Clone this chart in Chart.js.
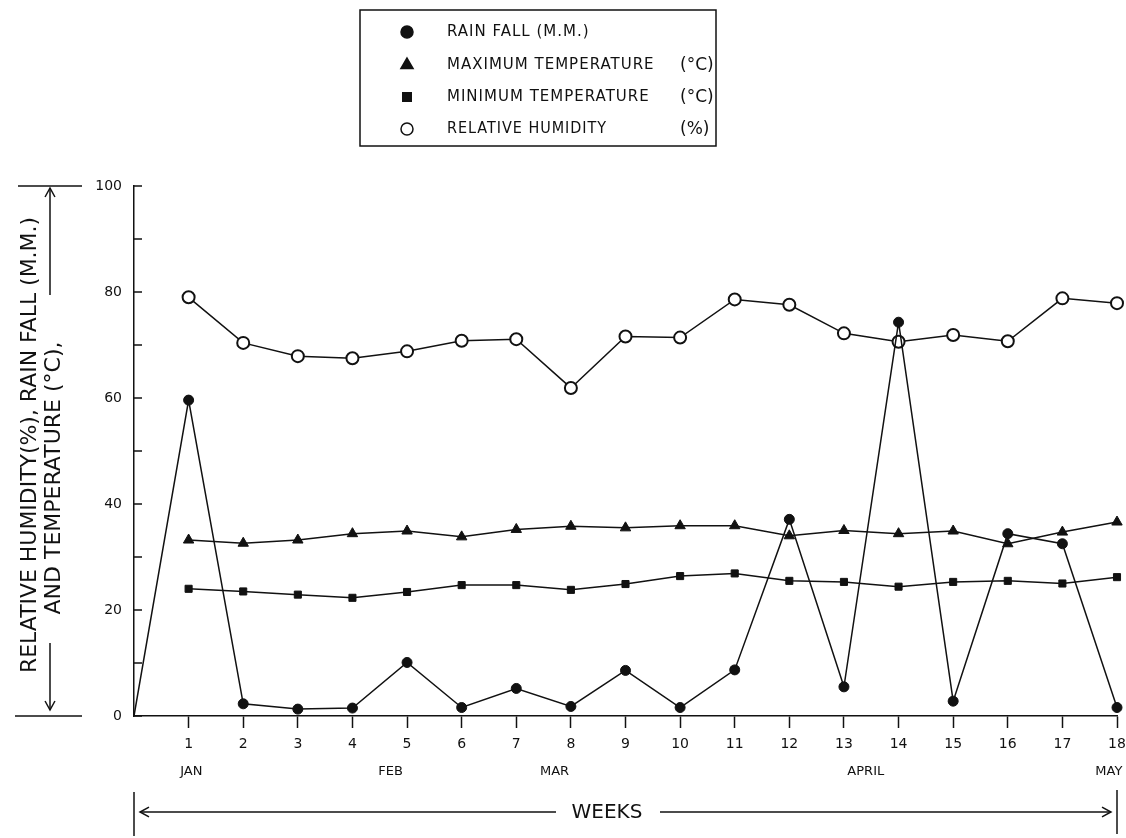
<!DOCTYPE html>
<html>
<head>
<meta charset="utf-8">
<title>Weekly weather</title>
<script src="https://cdn.jsdelivr.net/npm/chart.js@4.4.1/dist/chart.umd.min.js"></script>
<style>
  html, body { margin: 0; padding: 0; background: #fff; }
  #wrap { width: 1126px; height: 838px; }
</style>
</head>
<body>
<div id="wrap"><canvas id="weatherChart" width="1126" height="838"></canvas></div>
<script>
// Week numbers along the x axis (0 is the origin, no label)
const weeks = [0, 1, 2, 3, 4, 5, 6, 7, 8, 9, 10, 11, 12, 13, 14, 15, 16, 17, 18];

// Series
const rainFall = [0, 59.6, 2.3, 1.3, 1.5, 10.1, 1.6, 5.2, 1.8, 8.6, 1.6, 8.7, 37.1, 5.5, 74.3, 2.8, 34.4, 32.5, 1.6];
const maxTemp = [null, 33.2, 32.6, 33.2, 34.4, 34.9, 33.8, 35.2, 35.8, 35.5, 35.9, 35.9, 34.0, 35.0, 34.4, 34.9, 32.5, 34.7, 36.6];
const minTemp = [null, 24.0, 23.5, 22.9, 22.3, 23.4, 24.7, 24.7, 23.8, 24.9, 26.4, 26.9, 25.5, 25.3, 24.4, 25.3, 25.5, 25.0, 26.2];
const humidity = [null, 79.0, 70.4, 67.9, 67.5, 68.8, 70.8, 71.1, 61.9, 71.6, 71.4, 78.6, 77.6, 72.2, 70.6, 71.9, 70.7, 78.8, 77.9];

// Month names and the week position they sit under
const monthNames = ['JAN', 'FEB', 'MAR', 'APRIL', 'MAY'];
const monthWeeks = [1.05, 4.7, 7.7, 13.4, 17.85];

// y ticks
const yTicks = [0, 20, 40, 60, 80, 100];

// legend texts
const legendNames = ['RAIN FALL (M.M.)', 'MAXIMUM TEMPERATURE', 'MINIMUM TEMPERATURE', 'RELATIVE HUMIDITY'];
const legendUnits = ['', '(°C)', '(°C)', '(%)'];

const INK = '#111';
const FONT = '"DejaVu Sans", sans-serif';

// Draws a small arrow head at (x, y) pointing in direction (dx, dy)
function arrowHead(ctx, x, y, dx, dy) {
    const s = 9;
    const px = -dy, py = dx;
    ctx.beginPath();
    ctx.moveTo(x - dx * s + px * s * 0.55, y - dy * s + py * s * 0.55);
    ctx.lineTo(x, y);
    ctx.lineTo(x - dx * s - px * s * 0.55, y - dy * s - py * s * 0.55);
    ctx.stroke();
}

function line(ctx, x1, y1, x2, y2) {
    ctx.beginPath();
    ctx.moveTo(x1, y1);
    ctx.lineTo(x2, y2);
    ctx.stroke();
}

// Everything hand lettered around the plot: legend box, axis titles, arrows, months
const decorations = {
    id: 'decorations',
    beforeDraw(chart) {
        const ctx = chart.ctx;
        ctx.save();
        ctx.fillStyle = '#fff';
        ctx.fillRect(0, 0, chart.width, chart.height);
        ctx.restore();
    },
    afterDraw(chart) {
        const ctx = chart.ctx;
        const x = chart.scales.x;
        const y = chart.scales.y;
        const area = chart.chartArea;
        ctx.save();
        ctx.strokeStyle = INK;
        ctx.fillStyle = INK;
        ctx.lineWidth = 1.5;

        // y axis minor ticks, pointing into the plot
        for (let v = 0; v <= 100; v += 10) {
            const py = y.getPixelForValue(v);
            line(ctx, area.left, py, area.left + 8, py);
        }

        // legend box
        ctx.strokeRect(360, 10, 356, 136);
        const rowY = [32, 65, 97, 129];
        chart.data.datasets.forEach((ds, i) => {
            ctx.fillStyle = ds.pointBackgroundColor;
            ctx.strokeStyle = INK;
            Chart.helpers.drawPoint(ctx, {
                pointStyle: ds.pointStyle,
                radius: ds.pointStyle === 'triangle' ? 7 : 6,
                rotation: 0,
                borderWidth: ds.pointBorderWidth
            }, 407, rowY[i]);
            ctx.fillStyle = INK;
            ctx.font = '15px ' + FONT;
            ctx.letterSpacing = '1px';
            ctx.textBaseline = 'middle';
            ctx.textAlign = 'left';
            ctx.fillText(legendNames[i], 447, rowY[i], i === 3 ? 160 : 222);
            ctx.letterSpacing = '0px';
            if (legendUnits[i]) {
                ctx.font = '17px ' + FONT;
                ctx.fillText(legendUnits[i], 680, rowY[i] + 1, 34);
            }
        });

        // month names under the week numbers
        ctx.font = '13px ' + FONT;
        ctx.textAlign = 'center';
        ctx.textBaseline = 'middle';
        monthNames.forEach((m, i) => {
            ctx.fillText(m, x.getPixelForValue(monthWeeks[i]), 772);
        });

        // WEEKS with arrows
        const left = x.getPixelForValue(0);
        const right = x.getPixelForValue(18);
        const wy = 812;
        line(ctx, left, 792, left, 836);
        line(ctx, right, 790, right, 834);
        line(ctx, left + 6, wy, 556, wy);
        arrowHead(ctx, left + 6, wy, -1, 0);
        line(ctx, 660, wy, right - 6, wy);
        arrowHead(ctx, right - 6, wy, 1, 0);
        ctx.font = '20px ' + FONT;
        ctx.fillText('WEEKS', 607, wy + 1);

        // y title arrows
        const top = y.getPixelForValue(100);
        const bottom = y.getPixelForValue(0);
        line(ctx, 18, top, 82, top);
        line(ctx, 50, 295, 50, top + 2);
        arrowHead(ctx, 50, top + 2, 0, -1);
        line(ctx, 15, bottom, 82, bottom);
        line(ctx, 50, 643, 50, bottom - 6);
        arrowHead(ctx, 50, bottom - 6, 0, 1);

        // y title, two rotated lines
        ctx.font = '22px ' + FONT;
        ctx.textAlign = 'center';
        ctx.textBaseline = 'middle';
        ctx.translate(30, 445);
        ctx.rotate(-Math.PI / 2);
        ctx.fillText('RELATIVE HUMIDITY(%), RAIN FALL (M.M.)', 0, 0, 456);
        ctx.rotate(Math.PI / 2);
        ctx.translate(-30, -445);
        ctx.translate(54, 478);
        ctx.rotate(-Math.PI / 2);
        ctx.fillText('AND TEMPERATURE (°C),', 0, 0, 278);
        ctx.restore();
    }
};

function makeChart() {
    const ctx = document.getElementById('weatherChart').getContext('2d');
    const common = {
        borderColor: INK,
        borderWidth: 1.5,
        pointBorderColor: INK,
        tension: 0
    };
    return new Chart(ctx, {
        type: 'line',
        data: {
            labels: weeks.map(String),
            datasets: [
                Object.assign({
                    label: legendNames[0],
                    data: rainFall,
                    pointStyle: 'circle',
                    pointRadius: rainFall.map((v, i) => i === 0 ? 0 : 5),
                    pointBackgroundColor: INK,
                    pointBorderWidth: 1
                }, common),
                Object.assign({
                    label: legendNames[1] + ' ' + legendUnits[1],
                    data: maxTemp,
                    pointStyle: 'triangle',
                    pointRadius: 6,
                    pointBackgroundColor: INK,
                    pointBorderWidth: 1
                }, common),
                Object.assign({
                    label: legendNames[2] + ' ' + legendUnits[2],
                    data: minTemp,
                    pointStyle: 'rect',
                    pointRadius: 5,
                    pointBackgroundColor: INK,
                    pointBorderWidth: 1
                }, common),
                Object.assign({
                    label: legendNames[3] + ' ' + legendUnits[3],
                    data: humidity,
                    pointStyle: 'circle',
                    pointRadius: 6,
                    pointBackgroundColor: '#fff',
                    pointBorderWidth: 2
                }, common)
            ]
        },
        options: {
            responsive: false,
            animation: false,
            events: [],
            layout: { padding: { top: 186, right: 0, left: 0, bottom: 0 } },
            plugins: {
                legend: { display: false },
                tooltip: { enabled: false }
            },
            scales: {
                x: {
                    type: 'category',
                    offset: false,
                    afterFit(scale) {
                        scale.height = 838 - 716;
                        scale.paddingRight = 9;
                    },
                    border: { display: true, color: INK, width: 1.5 },
                    grid: {
                        drawOnChartArea: false,
                        tickLength: 12,
                        tickWidth: 1.5,
                        tickColor: (c) => c.index === 0 ? 'rgba(0,0,0,0)' : INK
                    },
                    ticks: {
                        color: INK,
                        padding: 8,
                        maxRotation: 0,
                        autoSkip: false,
                        font: { family: FONT, size: 14 },
                        callback: (v, i) => i === 0 ? '' : weeks[i]
                    }
                },
                y: {
                    min: 0,
                    max: 100,
                    afterFit(scale) { scale.width = 134; },
                    afterBuildTicks(scale) { scale.ticks = yTicks.map(v => ({ value: v })); },
                    border: { display: true, color: INK, width: 1.5 },
                    grid: { drawOnChartArea: false, drawTicks: false },
                    ticks: {
                        color: INK,
                        padding: 12,
                        font: { family: FONT, size: 14 }
                    }
                }
            }
        },
        plugins: [decorations]
    });
}

let weatherChart;
document.addEventListener('DOMContentLoaded', function() {
    weatherChart = makeChart();
});
</script>
</body>
</html>
